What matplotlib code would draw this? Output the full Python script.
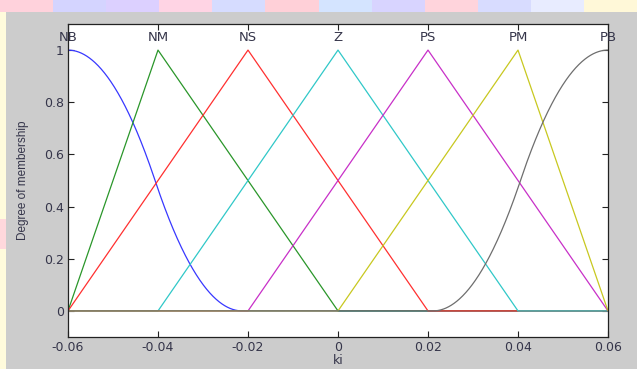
import numpy as np
import matplotlib
matplotlib.use("Agg")
import matplotlib.pyplot as plt
from matplotlib.patches import Rectangle

# ---- data ----
mf_names = ["NB", "NM", "NS", "Z", "PS", "PM", "PB"]
mf_types = ["zmf", "trimf", "trimf", "trimf", "trimf", "trimf", "smf"]
mf_params = [
    [-0.06, -0.0213],
    [-0.06, -0.04, 0.0],
    [-0.06, -0.02, 0.02],
    [-0.04, 0.0, 0.04],
    [-0.02, 0.02, 0.06],
    [0.0, 0.04, 0.06],
    [0.0211, 0.06],
]
mf_peaks = [-0.06, -0.04, -0.02, 0.0, 0.02, 0.04, 0.06]
x_range = [-0.06, 0.06]
x_ticks = [-0.06, -0.04, -0.02, 0, 0.02, 0.04, 0.06]
x_ticklabels = ["-0.06", "-0.04", "-0.02", "0", "0.02", "0.04", "0.06"]
y_ticks = [0, 0.2, 0.4, 0.6, 0.8, 1]
y_ticklabels = ["0", "0.2", "0.4", "0.6", "0.8", "1"]
colors = ["#3838ff", "#2a962a", "#ff3030", "#30c8c8", "#c830c8", "#c8c820", "#6e6e6e"]


def trimf(x, p):
    a, b, c = p
    y = np.zeros_like(x)
    left = (x >= a) & (x <= b)
    right = (x > b) & (x <= c)
    if b > a:
        y[left] = (x[left] - a) / (b - a)
    if c > b:
        y[right] = (c - x[right]) / (c - b)
    return np.clip(y, 0, 1)


def zmf(x, p):
    a, b = p
    m = (a + b) / 2
    y = np.zeros_like(x)
    y[x <= a] = 1
    s1 = (x > a) & (x <= m)
    s2 = (x > m) & (x < b)
    y[s1] = 1 - 2 * ((x[s1] - a) / (b - a)) ** 2
    y[s2] = 2 * ((x[s2] - b) / (b - a)) ** 2
    return y


def smf(x, p):
    a, b = p
    m = (a + b) / 2
    y = np.zeros_like(x)
    y[x >= b] = 1
    s1 = (x > a) & (x <= m)
    s2 = (x > m) & (x < b)
    y[s1] = 2 * ((x[s1] - a) / (b - a)) ** 2
    y[s2] = 1 - 2 * ((x[s2] - b) / (b - a)) ** 2
    return y


funcs = {"trimf": trimf, "zmf": zmf, "smf": smf}

plt.rcParams["font.family"] = ["DejaVu Sans"]
W, H = 637, 369
fig = plt.figure(figsize=(W / 100, H / 100), dpi=100)
fig.patch.set_facecolor("white")

# slide background strips
fig.patches.append(Rectangle((0, 0), 6 / W, 1, transform=fig.transFigure,
                             facecolor="#fffbdc", edgecolor="none", zorder=-10))
fig.patches.append(Rectangle((0, 120 / H), 6 / W, 30 / H, transform=fig.transFigure,
                             facecolor="#ffd8dc", edgecolor="none", zorder=-9))
top_cols = ["#ffd2dc", "#d4d4ff", "#dcd0ff", "#ffd4e4", "#d6dcff", "#ffd0d8",
            "#d4e4ff", "#d8d4ff", "#ffd4dc", "#d8dcff", "#e8ecff", "#fff8d8"]
n = len(top_cols)
for i, c in enumerate(top_cols):
    fig.patches.append(Rectangle((i / n, 1 - 12 / H), 1 / n + 0.002, 12 / H,
                                 transform=fig.transFigure, facecolor=c,
                                 edgecolor="none", zorder=-9))
fig.patches.append(Rectangle((6 / W, 0), 1 - 6 / W, 1 - 12 / H, transform=fig.transFigure,
                             facecolor="#cccccc", edgecolor="none", zorder=-8))

ax = fig.add_axes([68 / W, (H - 337) / H, 540 / W, 313 / H])
ax.set_facecolor("white")

x = np.linspace(x_range[0], x_range[1], 1201)
for name, t, p, c in zip(mf_names, mf_types, mf_params, colors):
    ax.plot(x, funcs[t](x, p), color=c, lw=0.9, solid_capstyle="butt")

txt_col = "#35354a"
for name, px in zip(mf_names, mf_peaks):
    ax.text(px, 1.048, name, ha="center", va="center", fontsize=9.5, color=txt_col,
            clip_on=False)

ax.set_xlim(x_range)
ax.set_ylim(-0.1, 1.1)
ax.set_xticks(x_ticks)
ax.set_xticklabels(x_ticklabels)
ax.set_yticks(y_ticks)
ax.set_yticklabels(y_ticklabels)
ax.tick_params(direction="in", length=4, width=0.8, top=True, right=True,
               labelsize=9, labelcolor=txt_col, color="#222222", pad=3)
for s in ax.spines.values():
    s.set_linewidth(0.9)
    s.set_color("#222222")
ax.set_xlabel("ki", fontsize=9, color=txt_col, labelpad=0)
ax.set_ylabel("Degree of membership", fontsize=8.5, color=txt_col, labelpad=11,
              family=["Liberation Sans", "DejaVu Sans"])

fig.savefig("out.png", dpi=100, facecolor=fig.get_facecolor())
